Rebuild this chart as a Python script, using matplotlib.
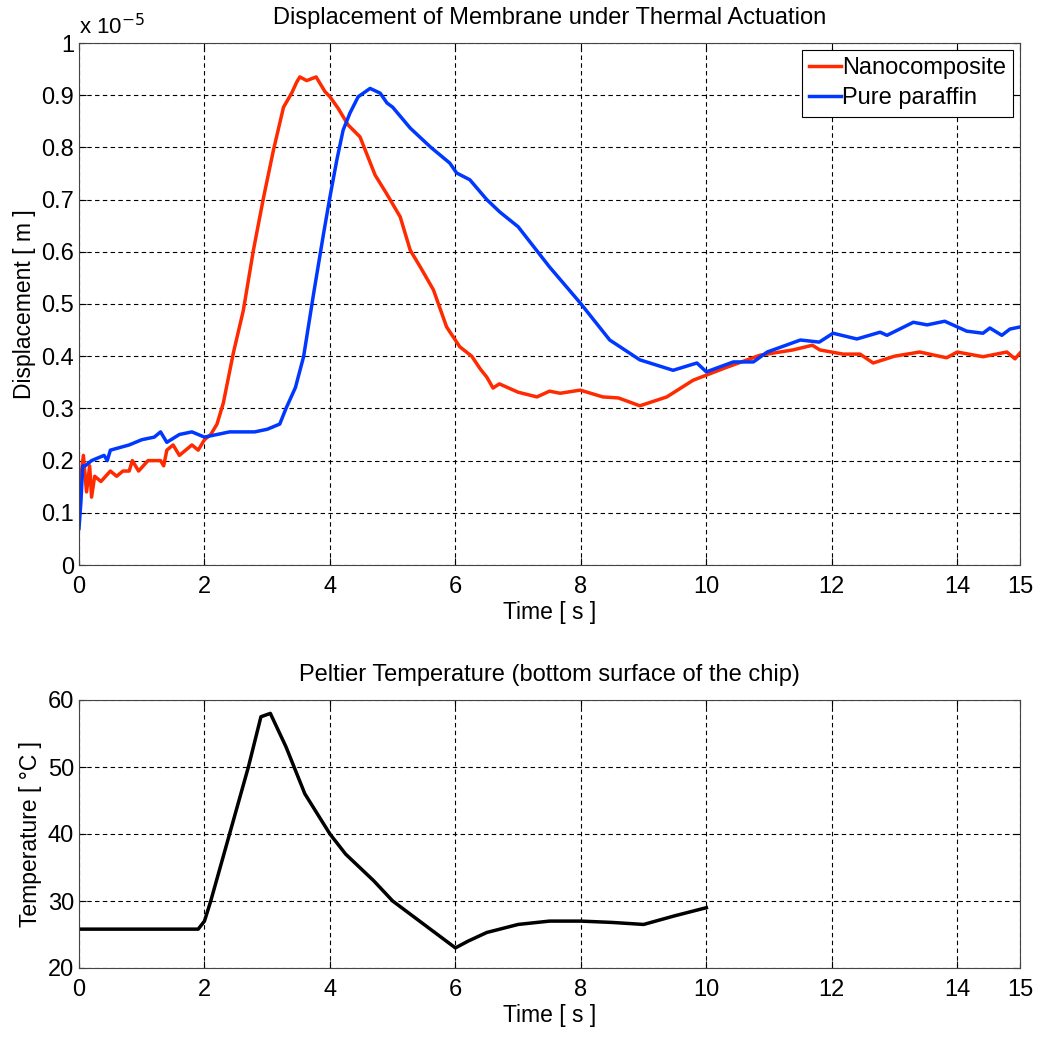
import matplotlib.pyplot as plt
import numpy as np

plt.rcParams['font.family'] = ['Liberation Sans', 'DejaVu Sans']

# displacement, in units of 1e-5 m
t_nano = [0, 0.03, 0.07, 0.12, 0.17, 0.2, 0.25, 0.35, 0.5, 0.6, 0.7, 0.8, 0.85, 0.95,
          1.1, 1.3, 1.35, 1.4, 1.5, 1.6, 1.7, 1.8, 1.9, 2.0, 2.1, 2.2, 2.3, 2.46, 2.62,
          2.78, 2.94, 3.1, 3.26, 3.39, 3.47, 3.52, 3.63, 3.78, 3.92, 4.0, 4.13, 4.29,
          4.48, 4.72, 4.9, 5.12, 5.28, 5.44, 5.65, 5.86, 6.07, 6.26, 6.4, 6.5, 6.6, 6.7,
          7.0, 7.3, 7.5, 7.67, 7.99, 8.35, 8.6, 8.94, 9.37, 9.79, 10.33, 10.86, 11.38,
          11.69, 11.81, 12.18, 12.45, 12.66, 13.0, 13.4, 13.83, 14.0, 14.41, 14.79, 14.92, 15.0]
d_nano = [0.13, 0.17, 0.21, 0.14, 0.19, 0.13, 0.17, 0.16, 0.18, 0.17, 0.18, 0.18, 0.20, 0.18,
          0.20, 0.20, 0.19, 0.22, 0.23, 0.21, 0.22, 0.23, 0.22, 0.24, 0.25, 0.27, 0.31, 0.406, 0.488,
          0.603, 0.703, 0.795, 0.877, 0.904, 0.925, 0.935, 0.928, 0.935, 0.907, 0.897, 0.875, 0.843,
          0.82, 0.747, 0.712, 0.667, 0.603, 0.571, 0.527, 0.456, 0.418, 0.40, 0.375, 0.36, 0.339, 0.347,
          0.331, 0.322, 0.333, 0.329, 0.335, 0.322, 0.32, 0.305, 0.322, 0.354, 0.379, 0.402, 0.412,
          0.421, 0.412, 0.404, 0.404, 0.387, 0.40, 0.408, 0.397, 0.408, 0.399, 0.408, 0.395, 0.406]

t_pure = [0, 0.03, 0.06, 0.1, 0.2, 0.4, 0.45, 0.5, 0.8, 1.0, 1.2, 1.3, 1.4, 1.6, 1.8, 2.0,
          2.4, 2.8, 3.0, 3.2, 3.3, 3.45, 3.58, 3.74, 3.9, 4.0, 4.11, 4.21, 4.32, 4.45, 4.64,
          4.8, 4.91, 5.0, 5.28, 5.6, 5.91, 6.02, 6.23, 6.5, 6.71, 7.0, 7.5, 7.99, 8.46, 8.94,
          9.47, 9.85, 10.0, 10.43, 10.75, 10.97, 11.5, 11.8, 12.02, 12.4, 12.77, 12.88, 13.3,
          13.52, 13.8, 14.15, 14.41, 14.52, 14.71, 14.84, 15.0]
d_pure = [0.07, 0.12, 0.19, 0.19, 0.20, 0.21, 0.20, 0.22, 0.23, 0.24, 0.245, 0.255, 0.235, 0.25, 0.255, 0.245,
          0.255, 0.255, 0.26, 0.27, 0.30, 0.34, 0.399, 0.52, 0.636, 0.705, 0.776, 0.833, 0.866, 0.897, 0.913,
          0.904, 0.885, 0.877, 0.837, 0.801, 0.77, 0.751, 0.738, 0.70, 0.676, 0.648, 0.571, 0.502, 0.431, 0.393,
          0.373, 0.387, 0.37, 0.389, 0.389, 0.408, 0.431, 0.427, 0.444, 0.433, 0.446, 0.44, 0.465,
          0.46, 0.467, 0.448, 0.444, 0.454, 0.44, 0.452, 0.456]

# Peltier temperature
t_temp = [0, 1.9, 2.0, 2.1, 2.4, 2.7, 2.9, 3.05, 3.3, 3.6, 4.0, 4.25, 4.7, 5.0, 5.5, 6.0,
          6.2, 6.5, 7.0, 7.5, 8.0, 8.5, 9.0, 9.5, 10.0]
temp = [25.8, 25.8, 27, 30, 40, 50, 57.5, 58, 53, 46, 40, 37, 33, 30, 26.5, 23,
        24, 25.3, 26.5, 27, 27, 26.8, 26.5, 27.8, 29]

xticks = [0, 2, 4, 6, 8, 10, 12, 14, 15]

fig = plt.figure(figsize=(10.38, 10.37), dpi=100)
ax1 = fig.add_axes([79/1038, 1 - 565/1037, 941/1038, 522/1037])
ax2 = fig.add_axes([79/1038, 1 - 968/1037, 941/1038, 268/1037])

ax1.plot(t_nano, d_nano, color='#ff2a00', lw=2.5, label='Nanocomposite')
ax1.plot(t_pure, d_pure, color='#0038ff', lw=2.5, label='Pure paraffin')
ax1.set_xlim(0, 15)
ax1.set_ylim(0, 1)
ax1.set_yticks(np.arange(0, 1.01, 0.1))
ax1.set_yticklabels(['0', '0.1', '0.2', '0.3', '0.4', '0.5', '0.6', '0.7', '0.8', '0.9', '1'])
ax1.text(0, 1.008, r'x 10$^{-5}$', transform=ax1.transAxes, fontsize=16, va='bottom')
ax1.set_title('Displacement of Membrane under Thermal Actuation', fontsize=17, pad=14)
ax1.set_xlabel('Time [ s ]', fontsize=16.5, labelpad=2)
ax1.set_ylabel('Displacement [ m ]', fontsize=16.5)
leg = ax1.legend(loc='upper right', fontsize=17, fancybox=False, framealpha=1,
                 edgecolor='black', handlelength=1.35, handletextpad=0.05,
                 borderaxespad=0.3, borderpad=0.3, labelspacing=0.35)
leg.get_frame().set_linewidth(0.8)

ax2.plot(t_temp, temp, color='black', lw=2.5)
ax2.set_xlim(0, 15)
ax2.set_ylim(20, 60)
ax2.set_yticks([20, 30, 40, 50, 60])
ax2.set_title('Peltier Temperature (bottom surface of the chip)', fontsize=17, pad=14)
ax2.set_xlabel('Time [ s ]', fontsize=16.5, labelpad=2)
ax2.set_ylabel('Temperature [ °C ]', fontsize=16.5)

for ax in (ax1, ax2):
    ax.set_xticks(xticks)
    ax.grid(True, color='black', linestyle=(0, (4, 3)), linewidth=0.8)
    ax.tick_params(direction='in', labelsize=17, top=True, right=True, length=5)
    ax.tick_params(axis='x', pad=8)
    for s in ax.spines.values():
        s.set_color('#444444')

plt.savefig('out.png', dpi=100)
